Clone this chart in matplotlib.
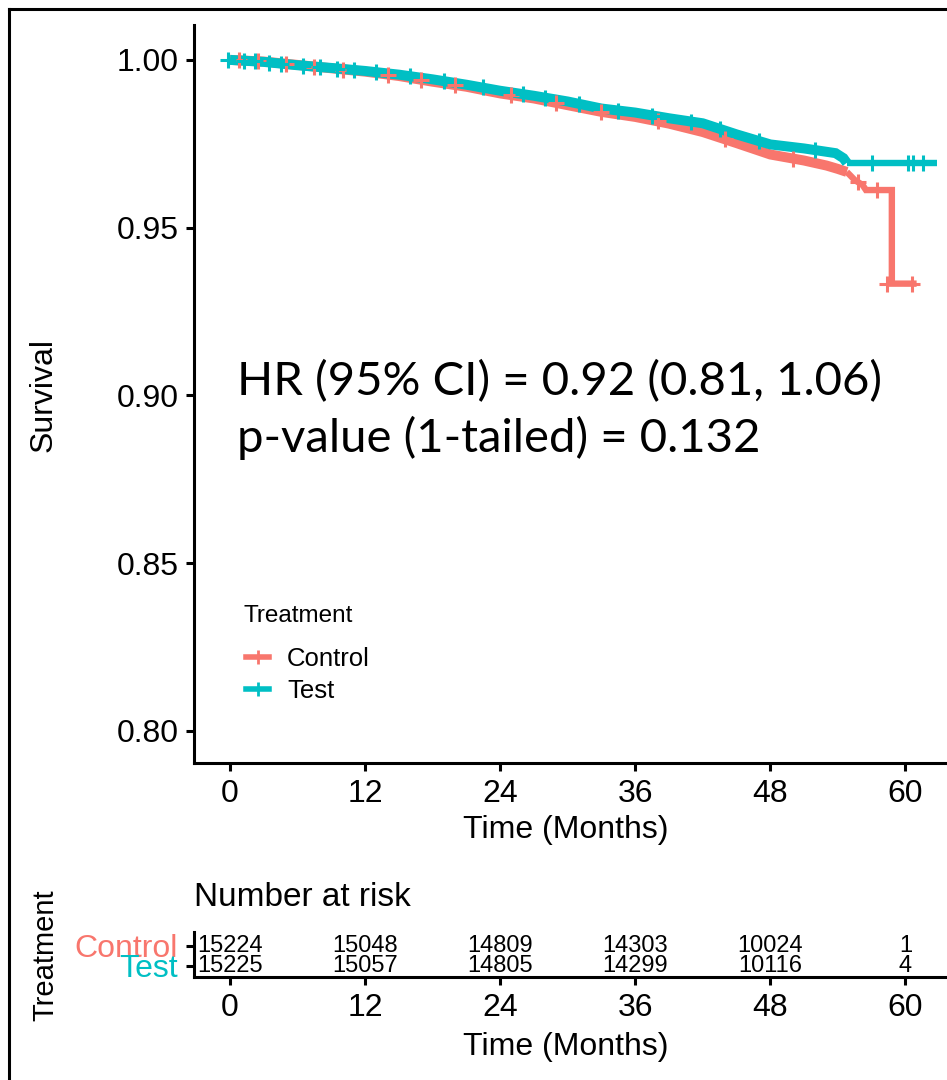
#!/usr/bin/env python3
"""Kaplan-Meier style survival curves with a number-at-risk table underneath."""

import matplotlib

matplotlib.use("Agg")
import matplotlib.pyplot as plt
from matplotlib.lines import Line2D

# survival at knot times (months); repeated times are drops
control_time = [0, 3, 6, 9, 12, 15, 18, 21, 24, 27, 30, 33, 36, 39, 42, 45,
                48, 51, 53, 54, 54.8, 55.5, 56.2, 56.5, 58.8, 58.8, 61.0]
control_surv = [1.000, 0.9995, 0.9985, 0.9975, 0.9965, 0.9952, 0.9935, 0.9920,
                0.9900, 0.9885, 0.9865, 0.9845, 0.9830, 0.9810, 0.9785, 0.9752,
                0.9718, 0.9700, 0.9685, 0.9675, 0.9666, 0.9642, 0.9627, 0.9612,
                0.9612, 0.9333, 0.9333]
control_censor_t = [0.8, 2.5, 5.0, 7.5, 10, 14, 17, 20, 25, 29, 33, 38, 44, 50, 55.8, 57.5, 58.4, 60.6]
control_censor_s = [0.9999, 0.9996, 0.9988, 0.9980, 0.9970, 0.9956, 0.9940, 0.9925,
                    0.9895, 0.9872, 0.9845, 0.9817, 0.9763, 0.9706, 0.9636, 0.9612,
                    0.9333, 0.9333]

test_time = [0, 3, 6, 9, 12, 15, 18, 21, 24, 27, 30, 33, 36, 39, 42, 45,
             48, 51, 53, 53.8, 54.5, 54.8, 62.8]
test_surv = [1.000, 0.9994, 0.9984, 0.9976, 0.9967, 0.9956, 0.9942, 0.9926,
             0.9908, 0.9893, 0.9876, 0.9855, 0.9843, 0.9826, 0.9811, 0.9778,
             0.9748, 0.9736, 0.9726, 0.9722, 0.9707, 0.9693, 0.9693]
test_censor_t = [-0.2, 1.2, 2.2, 3.5, 4.5, 6.5, 8, 9.5, 11, 13, 16, 19, 22.5, 26,
                 28, 31, 34.5, 37.5, 41, 43.5, 47, 52, 57, 60.2, 60.7, 61.6]
test_censor_s = [1.000, 0.9998, 0.9996, 0.9992, 0.9988, 0.9982, 0.9978, 0.9974,
                 0.9970, 0.9963, 0.9952, 0.9936, 0.9918, 0.9898, 0.9887, 0.9869,
                 0.9848, 0.9834, 0.9816, 0.9795, 0.9758, 0.9730, 0.9693, 0.9693,
                 0.9693, 0.9693]

risk_times = [0, 12, 24, 36, 48, 60]
risk_control = [15224, 15048, 14809, 14303, 10024, 1]
risk_test = [15225, 15057, 14805, 14299, 10116, 4]

groups = ["Control", "Test"]
colors = {"Control": "#F8766D", "Test": "#00BFC4"}

hr_line = "HR (95% CI) = 0.92 (0.81, 1.06)"
p_line = "p-value (1-tailed) = 0.132"

W, H = 947, 1080
plt.rcParams["font.family"] = ["Liberation Sans", "DejaVu Sans"]

fig = plt.figure(figsize=(W / 100, H / 100), dpi=100)

SPINE = 2.2
DENSE_END = 55.0  # censoring is dense up to here, so the band is thicker


def px(x0, y0, x1, y1):
    """figure rect from pixel corners (top-left origin)"""
    return [x0 / W, 1 - y1 / H, (x1 - x0) / W, (y1 - y0) / H]


def style_axis(ax):
    for side in ("top", "right"):
        ax.spines[side].set_visible(False)
    for side in ("left", "bottom"):
        ax.spines[side].set_linewidth(SPINE)
    ax.tick_params(length=5.8, width=SPINE, labelsize=23, colors="black")
    ax.tick_params(axis="x", pad=6)
    ax.tick_params(axis="y", pad=5)


xlim = (-3.2, 63.7)

# ---- survival panel
ax = fig.add_axes(px(194, 25, 947, 763))
style_axis(ax)
series = [
    ("Control", control_time, control_surv, control_censor_t, control_censor_s),
    ("Test", test_time, test_surv, test_censor_t, test_censor_s),
]
for name, t, s, ct, cs in series:
    c = colors[name]
    k = max(i for i, tt in enumerate(t) if tt <= DENSE_END)
    ax.plot(t[: k + 1], s[: k + 1], color=c, lw=7.2, solid_capstyle="butt",
            solid_joinstyle="miter", zorder=2)
    ax.plot(t[k:], s[k:], color=c, lw=4.6, solid_capstyle="butt",
            solid_joinstyle="miter", zorder=2)
    ax.plot(ct, cs, ls="none", marker="+", ms=11, mew=2.2, color=c, zorder=3)

ax.set_xlim(*xlim)
ax.set_ylim(0.7904, 1.0104)
ax.set_xticks(risk_times)
ax.set_yticks([0.80, 0.85, 0.90, 0.95, 1.00])
ax.set_yticklabels([f"{v:.2f}" for v in [0.80, 0.85, 0.90, 0.95, 1.00]])

txt_font = ["Lato", "DejaVu Sans"]
ax.text(0.6, 0.9042, hr_line, fontsize=34, family=txt_font, ha="left", va="center")
ax.text(0.6, 0.8872, p_line, fontsize=34, family=txt_font, ha="left", va="center")

# legend: title placed separately to get the wider gap above the keys
ax.text((243 - 194) / 753, (763 - 616) / 738, "Treatment", transform=ax.transAxes,
        fontsize=17.5, ha="left", va="center")
handles = [
    Line2D([], [], color=colors[g], lw=4, marker="+", ms=10, mew=2.0) for g in groups
]
ax.legend(
    handles,
    groups,
    loc="upper left",
    bbox_to_anchor=((246 - 194) / 753, (763 - 647) / 738),
    borderaxespad=0,
    borderpad=0,
    frameon=False,
    fontsize=18.5,
    handlelength=0.9,
    handletextpad=0.7,
    labelspacing=0.3,
)

fig.text(566 / W, 1 - 830 / H, "Time (Months)", fontsize=23, ha="center", va="center")
fig.text(44 / W, 1 - 395 / H, "Survival", fontsize=23, ha="center", va="center", rotation=90)

# ---- number at risk table
rax = fig.add_axes(px(194, 932, 947, 977))
style_axis(rax)
rax.set_xlim(*xlim)
rax.set_ylim(0, 1)
row_y = {"Control": 0.70, "Test": 0.25}
for name, counts in (("Control", risk_control), ("Test", risk_test)):
    for t, n in zip(risk_times, counts):
        rax.text(t, row_y[name], str(n), fontsize=17, ha="center", va="center")
rax.set_xticks(risk_times)
rax.set_yticks([row_y[g] for g in groups])
rax.set_yticklabels(groups)
for lab, g in zip(rax.get_yticklabels(), groups):
    lab.set_color(colors[g])
rax.tick_params(axis="y", pad=6)
rax.text(0.0, 1.76, "Number at risk", transform=rax.transAxes, fontsize=24,
         ha="left", va="center")
fig.text(566 / W, 1 - 1047 / H, "Time (Months)", fontsize=23, ha="center", va="center")
fig.text(45 / W, 1 - 955 / H, "Treatment", fontsize=21, ha="center", va="center", rotation=90)

# outer frame, cropped on the right and bottom
fig.add_artist(Line2D([9 / W, 9 / W], [1 - 9 / H, -0.1], color="black", lw=2.2,
                      transform=fig.transFigure))
fig.add_artist(Line2D([9 / W, 1.1], [1 - 9 / H, 1 - 9 / H], color="black", lw=2.2,
                      transform=fig.transFigure))

fig.savefig("out.png", dpi=100)
